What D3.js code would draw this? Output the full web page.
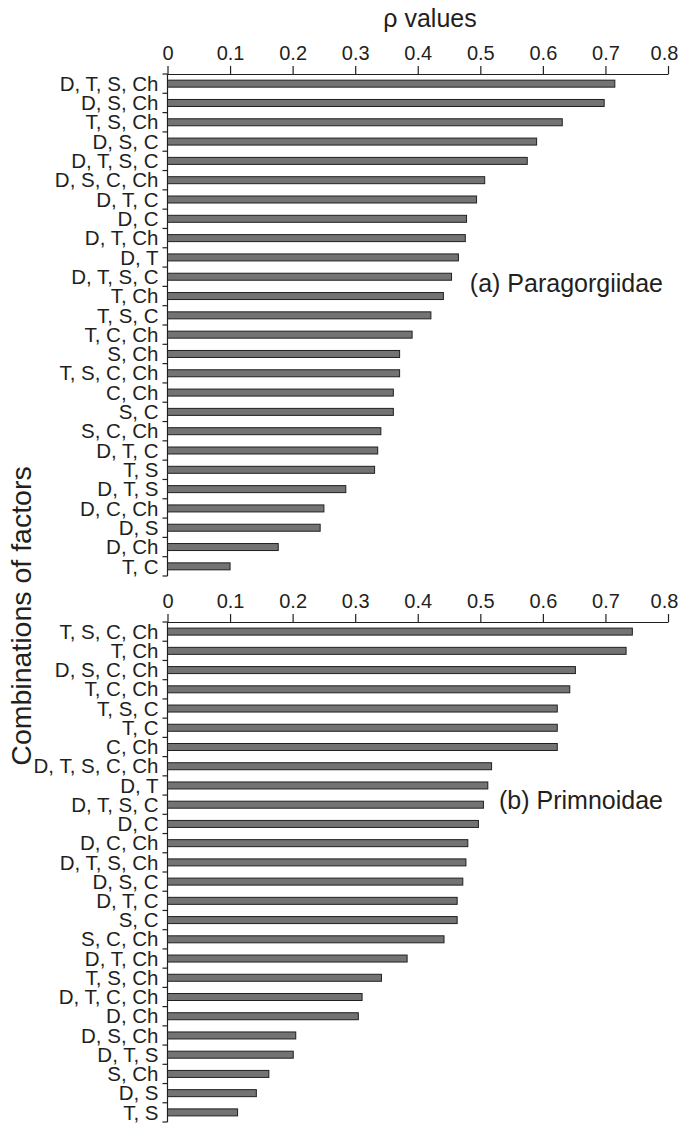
<!DOCTYPE html>
<html>
<head>
<meta charset="utf-8">
<script src="https://cdn.jsdelivr.net/npm/d3@7"></script>
<style>
  body { margin: 0; background: #fff; }
  text { font-family: "Liberation Sans", Arial, Helvetica, sans-serif; fill: #231f20; }
</style>
</head>
<body>
<div id="viz"></div>
<script>
const width = 678;
const height = 1124;

// tick values of the rho axis
const xTicks = [0, 0.1, 0.2, 0.3, 0.4, 0.5, 0.6, 0.7, 0.8];
const xTickLabels = ['0', '0.1', '0.2', '0.3', '0.4', '0.5', '0.6', '0.7', '0.8'];

// (a) Paragorgiidae
const labelsA = ['D, T, S, Ch', 'D, S, Ch', 'T, S, Ch', 'D, S, C', 'D, T, S, C', 'D, S, C, Ch',
  'D, T, C', 'D, C', 'D, T, Ch', 'D, T', 'D, T, S, C', 'T, Ch', 'T, S, C', 'T, C, Ch', 'S, Ch',
  'T, S, C, Ch', 'C, Ch', 'S, C', 'S, C, Ch', 'D, T, C', 'T, S', 'D, T, S', 'D, C, Ch', 'D, S',
  'D, Ch', 'T, C'];
const valuesA = [0.715, 0.698, 0.631, 0.590, 0.575, 0.507, 0.494, 0.478, 0.476, 0.465, 0.454,
  0.441, 0.421, 0.391, 0.371, 0.371, 0.361, 0.361, 0.341, 0.336, 0.331, 0.285, 0.250, 0.244,
  0.177, 0.100];

// (b) Primnoidae
const labelsB = ['T, S, C, Ch', 'T, Ch', 'D, S, C, Ch', 'T, C, Ch', 'T, S, C', 'T, C', 'C, Ch',
  'D, T, S, C, Ch', 'D, T', 'D, T, S, C', 'D, C', 'D, C, Ch', 'D, T, S, Ch', 'D, S, C', 'D, T, C',
  'S, C', 'S, C, Ch', 'D, T, Ch', 'T, S, Ch', 'D, T, C, Ch', 'D, Ch', 'D, S, Ch', 'D, T, S',
  'S, Ch', 'D, S', 'T, S'];
const valuesB = [0.743, 0.733, 0.652, 0.643, 0.623, 0.623, 0.623, 0.518, 0.512, 0.505, 0.497,
  0.480, 0.477, 0.472, 0.463, 0.463, 0.442, 0.383, 0.342, 0.311, 0.305, 0.205, 0.201, 0.162,
  0.142, 0.112];

const ink = '#231f20';

const svg = d3.select('#viz')
  .append('svg')
    .attr('width', width)
    .attr('height', height);

const x = d3.scaleLinear().domain([0, 0.8]).range([167.5, 668]);

function drawPanel(labels, values, top, bottom, name, nameY) {
  // labels repeat (e.g. "D, T, S, C"), so the band domain is the row index
  const y = d3.scaleBand().domain(d3.range(labels.length)).range([top, bottom]);
  const g = svg.append('g');

  // rho axis on top of the panel
  const xAxis = d3.axisTop(x)
    .tickValues(xTicks)
    .tickFormat((d, i) => xTickLabels[i])
    .tickSize(8)
    .tickSizeOuter(0)
    .tickPadding(6);
  g.append('g')
      .attr('transform', `translate(0,${top})`)
      .call(xAxis)
      .attr('font-family', null)
      .attr('font-size', null)
      .call(a => a.selectAll('path, line').attr('stroke', ink).attr('stroke-width', 1.2))
      .call(a => a.selectAll('text').style('font-size', '20px'))
      // last label sits flush with the right edge, as in the print
      .call(a => a.selectAll('text').filter(d => d === 0.8).attr('dx', -4));

  // category axis: vertical line with ticks at the band edges
  g.append('line')
      .attr('x1', x(0)).attr('x2', x(0))
      .attr('y1', top).attr('y2', bottom)
      .attr('stroke', ink).attr('stroke-width', 1.2);
  g.selectAll('.edge')
    .data(d3.range(labels.length + 1))
    .join('line')
      .attr('class', 'edge')
      .attr('x1', x(0) - 5).attr('x2', x(0))
      .attr('y1', i => top + i * y.step())
      .attr('y2', i => top + i * y.step())
      .attr('stroke', ink).attr('stroke-width', 1.2);

  g.selectAll('.cat')
    .data(labels)
    .join('text')
      .attr('class', 'cat')
      .attr('x', x(0) - 9)
      .attr('y', (d, i) => y(i) + y.bandwidth() / 2)
      .attr('dy', '0.35em')
      .attr('text-anchor', 'end')
      .style('font-size', '20.5px')
      .text(d => d);

  // bars
  g.selectAll('.bar')
    .data(values)
    .join('rect')
      .attr('class', 'bar')
      .attr('x', x(0))
      .attr('y', (d, i) => y(i) + y.bandwidth() / 2 - 3.5)
      .attr('width', d => x(d) - x(0))
      .attr('height', 7)
      .attr('fill', '#737373')
      .attr('stroke', ink)
      .attr('stroke-width', 1);

  g.append('text')
      .attr('x', 663)
      .attr('y', nameY)
      .attr('text-anchor', 'end')
      .style('font-size', '25px')
      .text(name);
}

drawPanel(labelsA, valuesA, 74, 576, '(a) Paragorgiidae', 292);
drawPanel(labelsB, valuesB, 622, 1122, '(b) Primnoidae', 809);

// axis titles
svg.append('text')
    .attr('x', 430)
    .attr('y', 27)
    .attr('text-anchor', 'middle')
    .style('font-size', '25px')
    .text('ρ values');

svg.append('text')
    .attr('transform', 'rotate(-90)')
    .attr('x', -616)
    .attr('y', 31)
    .attr('text-anchor', 'middle')
    .style('font-size', '28.5px')
    .text('Combinations of factors');
</script>
</body>
</html>
